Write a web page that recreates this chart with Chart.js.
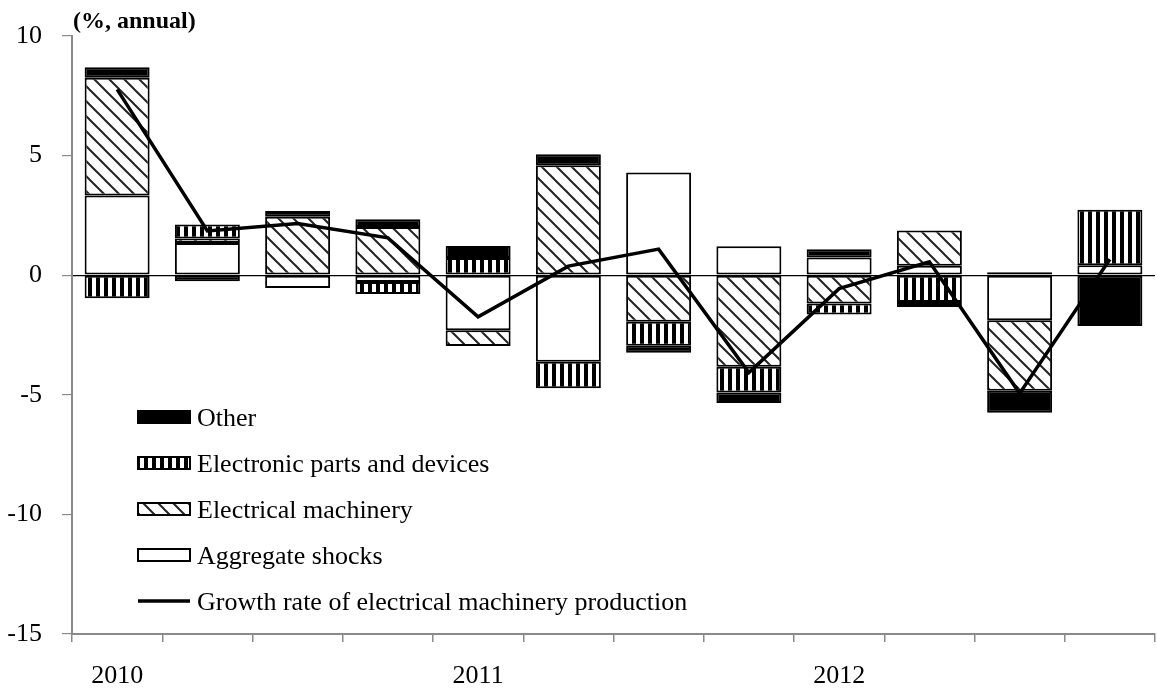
<!DOCTYPE html>
<html>
<head>
<meta charset="utf-8">
<style>
    body{ margin:0; background:#fff; }
    .wrap{ width:1157px; height:690px; position:relative; }
</style>
</head>
<body>
<div class="wrap"><canvas id="chart" width="1157" height="690"></canvas></div>
<script src="https://cdn.jsdelivr.net/npm/chart.js"></script>
<script>
    // quarters 2010Q1 .. 2012Q4
    const categories = ['2010Q1','2010Q2','2010Q3','2010Q4','2011Q1','2011Q2','2011Q3','2011Q4','2012Q1','2012Q2','2012Q3','2012Q4'];
    const xTickLabels = ['2010','','','','2011','','','','2012','','',''];
    const yTicks = [-15, -10, -5, 0, 5, 10];

    const aggregate  = [3.33, 1.35, -0.53, -0.28, -2.30, -3.62, 4.29, 1.21, 0.74, 0.39, -1.88, 0.42];
    const electrical = [4.92, 0.18, 2.44, 2.02, -0.66, 4.60, -1.95, -3.83, -1.18, 1.48, -2.95, null];
    const electronic = [-0.96, 0.59, null, -0.51, 0.72, -1.11, -1.00, -1.07, -0.46, -1.12, 0.12, 2.32];
    const other      = [0.44, -0.25, 0.24, 0.32, 0.50, 0.46, -0.29, -0.44, 0.34, -0.21, -0.92, -2.12];
    const growth     = [7.77, 1.85, 2.16, 1.56, -1.74, 0.38, 1.09, -4.07, -0.56, 0.56, -4.94, 0.67];

    const FONT = '"Liberation Serif", "Times New Roman", serif';

    function hatchPattern(){
        const s = 15;
        const c = document.createElement('canvas');
        c.width = s; c.height = s;
        const g = c.getContext('2d');
        g.fillStyle = '#fff';
        g.fillRect(0, 0, s, s);
        g.strokeStyle = '#222';
        g.lineWidth = 2;
        for (let k = -1; k <= 1; k++){
            g.beginPath();
            g.moveTo(k*s - 1, -1);
            g.lineTo(k*s + s + 1, s + 1);
            g.stroke();
        }
        return g.createPattern(c, 'repeat');
    }

    function stripePattern(){
        const c = document.createElement('canvas');
        c.width = 8; c.height = 8;
        const g = c.getContext('2d');
        g.fillStyle = '#fff';
        g.fillRect(0, 0, 8, 8);
        g.fillStyle = '#000';
        g.fillRect(0, 0, 4, 8);
        return g.createPattern(c, 'repeat');
    }

    const hatch = hatchPattern();
    const stripes = stripePattern();

    function barSet(label, data, fill){
        return {
            type: 'bar', label: label, data: data, stack: 'bars', order: 1,
            backgroundColor: fill, borderColor: '#000', borderWidth: 2, borderSkipped: false,
            barPercentage: 0.72, categoryPercentage: 1
        };
    }

    // legend drawn inside the plot, lower left
    const innerLegend = {
        id: 'innerLegend',
        afterDraw(chart){
            const ctx = chart.ctx;
            const a = chart.chartArea;
            const ds = chart.data.datasets;
            const items = [ds[3], ds[2], ds[1], ds[0], ds[4]];
            const x = a.left + 66, w = 52, h = 12;
            let y = 417;
            ctx.save();
            ctx.font = '26px ' + FONT;
            ctx.textBaseline = 'middle';
            ctx.fillStyle = '#000';
            items.forEach(d => {
                if (d.type === 'line'){
                    ctx.strokeStyle = '#000';
                    ctx.lineWidth = 3.5;
                    ctx.beginPath();
                    ctx.moveTo(x, y); ctx.lineTo(x + w, y);
                    ctx.stroke();
                } else {
                    ctx.fillStyle = d.backgroundColor;
                    ctx.fillRect(x, y - h/2, w, h);
                    ctx.strokeStyle = '#000';
                    ctx.lineWidth = 2;
                    ctx.strokeRect(x, y - h/2, w, h);
                }
                ctx.fillStyle = '#000';
                ctx.fillText(d.label, x + w + 7, y + 2);
                y += 46;
            });
            // unit note
            ctx.font = 'bold 24px ' + FONT;
            ctx.textBaseline = 'alphabetic';
            ctx.fillText('(%, annual)', a.left + 1, 28);
            ctx.restore();
        }
    };

    new Chart(document.getElementById('chart'), {
        data: {
            labels: categories,
            datasets: [
                barSet('Aggregate shocks', aggregate, '#fff'),
                barSet('Electrical machinery', electrical, hatch),
                barSet('Electronic parts and devices', electronic, stripes),
                barSet('Other', other, '#000'),
                {
                    type: 'line', label: 'Growth rate of electrical machinery production',
                    data: growth, stack: 'line', order: 0,
                    borderColor: '#000', borderWidth: 3.5, pointRadius: 0, tension: 0, fill: false
                }
            ]
        },
        options: {
            responsive: false,
            animation: false,
            layout: { padding: { top: 36, right: 2, left: 0, bottom: 0 } },
            plugins: { legend: { display: false }, tooltip: { enabled: false } },
            scales: {
                x: {
                    stacked: true,
                    afterFit: s => { s.height = 56; },
                    grid: { drawOnChartArea: false, offset: true, tickColor: '#8a8a8a', tickLength: 8, lineWidth: 1.5 },
                    border: { color: '#8a8a8a', width: 2 },
                    ticks: {
                        autoSkip: false, maxRotation: 0, padding: 19, color: '#000',
                        font: { family: FONT, size: 26 },
                        callback: (v, i) => xTickLabels[i]
                    }
                },
                y: {
                    stacked: true,
                    min: -15, max: 10,
                    afterFit: s => { s.width = 72; },
                    afterBuildTicks: s => { s.ticks = yTicks.map(v => ({ value: v })); },
                    grid: {
                        color: c => (c.tick && c.tick.value === 0) ? '#000' : 'rgba(0,0,0,0)',
                        lineWidth: 1.2, tickColor: '#8a8a8a', tickLength: 10
                    },
                    border: { color: '#8a8a8a', width: 2 },
                    ticks: { padding: 20, color: '#000', font: { family: FONT, size: 26 } }
                }
            }
        },
        plugins: [innerLegend]
    });
</script>
</body>
</html>
